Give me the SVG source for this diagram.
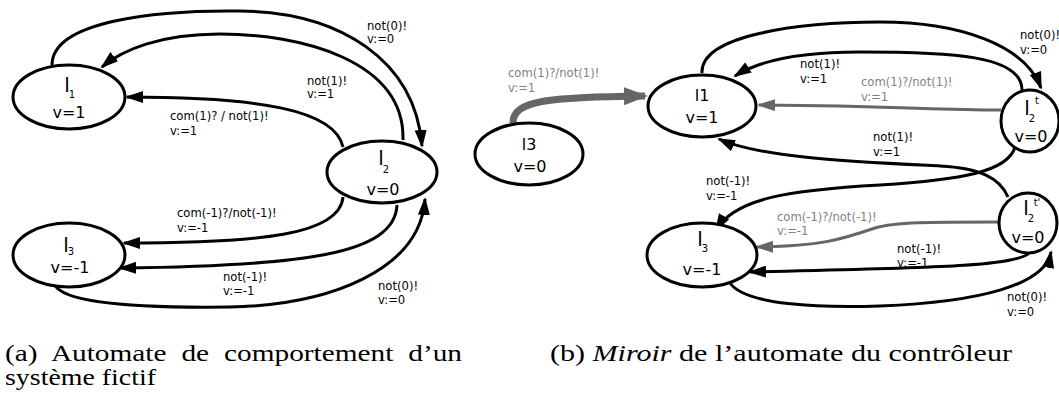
<svg xmlns="http://www.w3.org/2000/svg" width="1059" height="399" viewBox="0 0 1059 399">
<style>
.node ellipse{fill:#fff;stroke:#000;stroke-width:3}
.nt{font-family:"DejaVu Sans",sans-serif;font-size:16px;fill:#000;text-anchor:middle}
.nl{font-family:"DejaVu Sans",sans-serif;font-size:20px;fill:#000;text-anchor:middle}
.ns{font-family:"DejaVu Sans",sans-serif;font-size:10px;fill:#000;text-anchor:middle}
.e{fill:none;stroke:#000;stroke-width:3}
.g{fill:none;stroke:#666;stroke-width:3}
.gt{fill:none;stroke:#666;stroke-width:7}
.lb{font-family:"DejaVu Sans",sans-serif;font-size:11.6px;fill:#000}
.lg{font-family:"DejaVu Sans",sans-serif;font-size:11.6px;fill:#808080}
.cap{font-family:"Liberation Serif","Times New Roman",serif;font-size:23px;fill:#000}
</style>
<defs>
<marker id="ab" markerUnits="userSpaceOnUse" markerWidth="18" markerHeight="12" refX="16" refY="6" orient="auto"><path d="M0,0 L18,6 L0,12 z" fill="#000"/></marker>
<marker id="ag" markerUnits="userSpaceOnUse" markerWidth="18" markerHeight="12" refX="16" refY="6" orient="auto"><path d="M0,0 L18,6 L0,12 z" fill="#666"/></marker>
<marker id="agt" markerUnits="userSpaceOnUse" markerWidth="24" markerHeight="18" refX="21" refY="9" orient="auto"><path d="M0,0 L24,9 L0,18 z" fill="#666"/></marker>
</defs>

<g id="connectors">
<!-- left diagram -->
<path class="e" marker-end="url(#ab)" d="M52,65 C52,20 160,10 240,11 C340,12 415,60 422,146"/>
<path class="e" marker-end="url(#ab)" d="M403,140 C405,60 300,34 220,34 C160,34 122,50 102,67"/>
<path class="e" marker-end="url(#ab)" d="M343,147 C335,110 260,97 127,97"/>
<path class="e" marker-end="url(#ab)" d="M343,197 C340,235 260,243 124,243"/>
<path class="e" marker-end="url(#ab)" d="M397,205 C395,255 300,266 120,268"/>
<path class="e" marker-end="url(#ab)" d="M55,285 C65,305 150,308 230,307 C330,305 420,270 425,199"/>
<!-- right diagram -->
<path class="gt" marker-end="url(#agt)" d="M513,123 C513,100 550,97 645,96"/>
<path class="e" marker-end="url(#ab)" d="M702,73 C700,35 800,22 880,22 C960,22 1025,45 1041,88"/>
<path class="e" marker-end="url(#ab)" d="M1022,90 C1022,55 950,52 860,52 C800,52 760,60 735,76"/>
<path class="g" marker-end="url(#ag)" d="M1001,110 C930,110 900,106 759,105"/>
<path class="e" marker-end="url(#ab)" d="M1008,197 C1000,178 980,168 940,166 C860,162 760,158 719,139"/>
<path class="e" marker-end="url(#ab)" d="M1015,147 C1008,172 960,180 880,185 C790,190 735,198 716,230"/>
<path class="g" marker-end="url(#ag)" d="M998,222 C930,222 895,222 875,228 C840,240 820,246 757,247"/>
<path class="e" marker-end="url(#ab)" d="M1030,252 C1020,268 900,268 750,272"/>
<path class="e" marker-end="url(#ab)" d="M730,283 C745,305 820,308 880,306 C980,302 1045,285 1051,252"/>
</g>

<g id="labels">
<text class="lb" x="367" y="30">not(0)!</text><text class="lb" x="367" y="43">v:=0</text>
<text class="lb" x="307" y="85">not(1)!</text><text class="lb" x="307" y="98">v:=1</text>
<text class="lb" x="170" y="120">com(1)? / not(1)!</text><text class="lb" x="170" y="135">v:=1</text>
<text class="lb" x="177" y="217">com(-1)?/not(-1)!</text><text class="lb" x="177" y="232">v:=-1</text>
<text class="lb" x="223" y="281">not(-1)!</text><text class="lb" x="223" y="295">v:=-1</text>
<text class="lb" x="378" y="290">not(0)!</text><text class="lb" x="378" y="304">v:=0</text>

<text class="lg" x="508" y="77">com(1)?/not(1)!</text><text class="lg" x="508" y="92">v:=1</text>
<text class="lb" x="1020" y="39">not(0)!</text><text class="lb" x="1020" y="54">v:=0</text>
<text class="lb" x="800" y="68">not(1)!</text><text class="lb" x="800" y="83">v:=1</text>
<text class="lg" x="861" y="86">com(1)?/not(1)!</text><text class="lg" x="861" y="101">v:=1</text>
<text class="lb" x="873" y="141">not(1)!</text><text class="lb" x="873" y="156">v:=1</text>
<text class="lb" x="706" y="185">not(-1)!</text><text class="lb" x="706" y="200">v:=-1</text>
<text class="lg" x="777" y="221">com(-1)?/not(-1)!</text><text class="lg" x="777" y="235">v:=-1</text>
<text class="lb" x="897" y="253">not(-1)!</text><text class="lb" x="897" y="267">v:=-1</text>
<text class="lb" x="1007" y="301">not(0)!</text><text class="lb" x="1007" y="316">v:=0</text>
</g>

<g id="a_l1" class="node">
<ellipse cx="69" cy="97" rx="56" ry="32"/>
<text class="nl" x="67" y="92">l</text><text class="ns" x="72" y="98">1</text>
<text class="nt" x="69" y="118">v=1</text>
</g>
<g id="a_l2" class="node">
<ellipse cx="382" cy="172" rx="55" ry="31"/>
<text class="nl" x="381" y="165">l</text><text class="ns" x="386" y="173">2</text>
<text class="nt" x="383" y="195">v=0</text>
</g>
<g id="a_l3" class="node">
<ellipse cx="69" cy="255" rx="56" ry="32"/>
<text class="nl" x="66" y="252">l</text><text class="ns" x="71" y="255">3</text>
<text class="nt" x="70" y="273">v=-1</text>
</g>

<g id="b_l3" class="node">
<ellipse cx="529" cy="154" rx="54" ry="31"/>
<text class="nt" x="529" y="150">l3</text>
<text class="nt" x="530" y="172">v=0</text>
</g>
<g id="b_l1" class="node">
<ellipse cx="702" cy="106" rx="54" ry="31"/>
<text class="nt" x="702" y="101">l1</text>
<text class="nt" x="702" y="123">v=1</text>
</g>
<g id="b_l2t" class="node">
<ellipse cx="1030" cy="121" rx="29" ry="31"/>
<text class="nl" x="1027" y="115">l</text><text class="ns" x="1032" y="122">2</text><text class="ns" x="1037" y="104">t</text>
<text class="nt" x="1031" y="142">v=0</text>
</g>
<g id="b_l2tp" class="node">
<ellipse cx="1028" cy="223" rx="29" ry="30"/>
<text class="nl" x="1026" y="215">l</text><text class="ns" x="1031" y="222">2</text><text class="ns" x="1037" y="206">t'</text>
<text class="nt" x="1028" y="243">v=0</text>
</g>
<g id="b_l3b" class="node">
<ellipse cx="702" cy="255" rx="55" ry="32"/>
<text class="nl" x="700" y="246">l</text><text class="ns" x="705" y="252">3</text>
<text class="nt" x="702" y="275">v=-1</text>
</g>

<g id="captions">
<text class="cap" x="5" y="361" textLength="457" lengthAdjust="spacingAndGlyphs" word-spacing="6">(a) Automate de comportement d’un</text>
<text class="cap" x="5" y="385" textLength="151" lengthAdjust="spacingAndGlyphs">système fictif</text>
<text class="cap" x="550" y="361" textLength="462" lengthAdjust="spacingAndGlyphs">(b) <tspan font-style="italic">Miroir</tspan> de l’automate du contrôleur</text>
</g>
</svg>
